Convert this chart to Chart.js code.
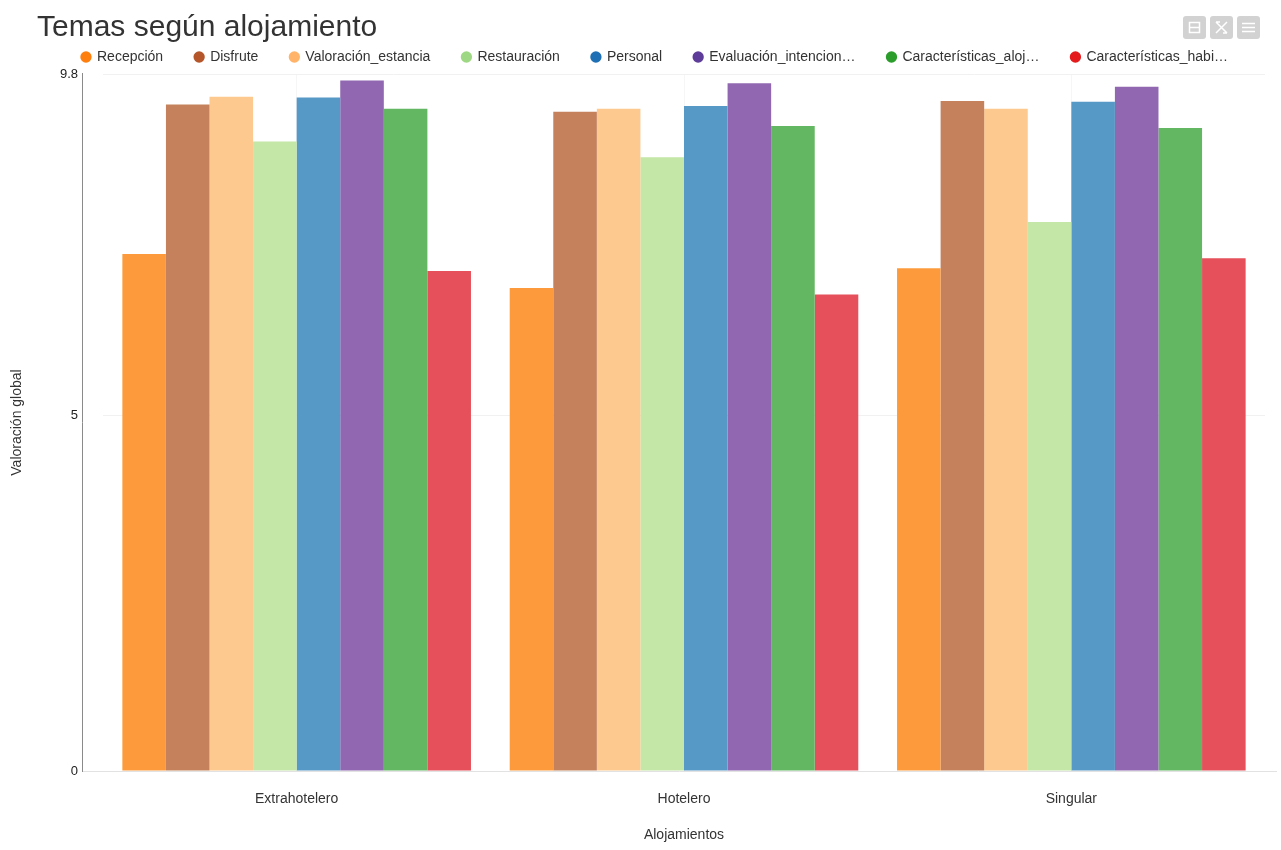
<!DOCTYPE html>
<html lang="es">
<head>
<meta charset="utf-8">
<title>Temas según alojamiento</title>
<script src="https://cdn.jsdelivr.net/npm/chart.js@4.4.1/dist/chart.umd.min.js"></script>
<style>
  html, body { margin: 0; padding: 0; background: #ffffff; }
  #wrap { width: 1281px; height: 850px; }
</style>
</head>
<body>
<div id="wrap"><canvas id="chart" width="1281" height="850"></canvas></div>
<script>
// Categories (x axis) and series names
const categories = ['Extrahotelero', 'Hotelero', 'Singular'];
const seriesNames = [
  'Recepción', 'Disfrute', 'Valoración_estancia', 'Restauración',
  'Personal', 'Evaluación_intencion…', 'Características_aloj…', 'Características_habi…'
];

// Average score per theme, one value per accommodation type
const recepcion          = [7.27, 6.79, 7.07];
const disfrute           = [9.37, 9.27, 9.42];
const valoracionEstancia = [9.48, 9.31, 9.31];
const restauracion       = [8.85, 8.63, 7.72];
const personal           = [9.47, 9.35, 9.41];
const evaluacion         = [9.71, 9.67, 9.62];
const caracAlojamiento   = [9.31, 9.07, 9.04];
const caracHabitacion    = [7.03, 6.70, 7.21];

// Y axis tick labels
const yTickValues = [0, 5, 9.8];

const seriesValues = [
  recepcion, disfrute, valoracionEstancia, restauracion,
  personal, evaluacion, caracAlojamiento, caracHabitacion
];

const barColors = [
  '#fd9b3c', '#c4815b', '#fdc98e', '#c4e6a6',
  '#5698c6', '#9067b0', '#63b762', '#e6505a'
];
const legendColors = [
  '#ff7f0e', '#b4552a', '#ffb46a', '#9fd884',
  '#1f6fb4', '#5e3c99', '#2a9d2a', '#e41a1c'
];

const FONT = '"Liberation Sans", Arial, Helvetica, sans-serif';

// Axis line, baseline and toolbar buttons
const decorations = {
  id: 'decorations',
  afterLayout(chart) {
    if (chart.titleBlock) {
      chart.titleBlock.left = 37;
    }
    if (chart.legend) {
      chart.legend.left += 20;
      chart.legend.right += 20;
    }
  },
  beforeDatasetsDraw(chart) {
    const { ctx, chartArea } = chart;
    const axisX = chartArea.left - 20.5;
    ctx.save();
    ctx.lineWidth = 1;
    ctx.strokeStyle = '#e2e2e2';
    ctx.beginPath();
    ctx.moveTo(axisX, Math.round(chartArea.bottom) + 0.5);
    ctx.lineTo(chartArea.right + 12, Math.round(chartArea.bottom) + 0.5);
    ctx.stroke();
    ctx.strokeStyle = '#8a8a8a';
    ctx.beginPath();
    ctx.moveTo(axisX, chartArea.top - 1);
    ctx.lineTo(axisX, chartArea.bottom + 1);
    ctx.stroke();
    ctx.restore();
  },
  afterDraw(chart) {
    const ctx = chart.ctx;
    const xs = [1183, 1210, 1237];
    const y = 16, s = 23;
    ctx.save();
    xs.forEach((x, i) => {
      ctx.fillStyle = '#d2d2d2';
      ctx.beginPath();
      ctx.roundRect(x, y, s, s, 3);
      ctx.fill();
      ctx.strokeStyle = '#ffffff';
      ctx.lineWidth = 1.5;
      ctx.beginPath();
      if (i === 0) {
        ctx.rect(x + 6.5, y + 6.5, 10, 10);
        ctx.moveTo(x + 6.5, y + 11.5);
        ctx.lineTo(x + 16.5, y + 11.5);
      } else if (i === 1) {
        ctx.moveTo(x + 6, y + 6); ctx.lineTo(x + 17, y + 17);
        ctx.moveTo(x + 17, y + 6); ctx.lineTo(x + 6, y + 17);
        ctx.moveTo(x + 6, y + 6); ctx.lineTo(x + 10, y + 6);
        ctx.moveTo(x + 17, y + 17); ctx.lineTo(x + 13, y + 17);
      } else {
        ctx.moveTo(x + 5, y + 7.5); ctx.lineTo(x + 18, y + 7.5);
        ctx.moveTo(x + 5, y + 11.5); ctx.lineTo(x + 18, y + 11.5);
        ctx.moveTo(x + 5, y + 15.5); ctx.lineTo(x + 18, y + 15.5);
      }
      ctx.stroke();
    });
    ctx.restore();
  }
};

const datasets = seriesNames.map((name, i) => ({
  label: name,
  data: seriesValues[i],
  backgroundColor: barColors[i],
  borderWidth: 0,
  categoryPercentage: 0.9,
  barPercentage: 1.0
}));

new Chart(document.getElementById('chart'), {
  type: 'bar',
  data: { labels: categories, datasets },
  plugins: [decorations],
  options: {
    responsive: false,
    animation: false,
    events: [],
    layout: { padding: { left: 5, right: 16, top: 0, bottom: 0 } },
    plugins: {
      tooltip: { enabled: false },
      title: {
        display: true,
        text: 'Temas según alojamiento',
        align: 'start',
        color: '#333333',
        font: { family: FONT, size: 30, weight: 'normal', lineHeight: 1.2 },
        padding: { top: 10, bottom: -28 }
      },
      legend: {
        display: true,
        position: 'top',
        align: 'center',
        labels: {
          usePointStyle: true,
          pointStyle: 'circle',
          boxWidth: 8,
          boxHeight: 8,
          padding: 32,
          color: '#333333',
          font: { family: FONT, size: 14 },
          generateLabels(chart) {
            const items = Chart.defaults.plugins.legend.labels.generateLabels(chart);
            items.forEach((it, i) => {
              it.fillStyle = legendColors[i];
              it.strokeStyle = legendColors[i];
              it.lineWidth = 0;
            });
            return items;
          }
        }
      }
    },
    scales: {
      x: {
        grid: {
          display: true,
          offset: false,
          drawTicks: false,
          color: 'rgba(0,0,0,0.035)'
        },
        border: { display: false },
        ticks: {
          padding: 20,
          color: '#333333',
          font: { family: FONT, size: 14 }
        },
        title: {
          display: true,
          text: 'Alojamientos',
          color: '#333333',
          font: { family: FONT, size: 14 },
          padding: { top: 0, bottom: 6.6 }
        },
        afterFit(scale) { scale.height = 79; }
      },
      y: {
        min: 0,
        max: 9.8,
        afterBuildTicks(scale) {
          scale.ticks = yTickValues.map(v => ({ value: v }));
        },
        grid: {
          drawTicks: false,
          color: ctx => (ctx.tick && ctx.tick.value === 0) ? 'rgba(0,0,0,0)' : '#f1f1f1'
        },
        border: { display: false },
        ticks: {
          padding: 25,
          color: '#222222',
          font: { family: FONT, size: 13 },
          callback: v => String(v)
        },
        title: {
          display: true,
          text: 'Valoración global',
          color: '#333333',
          font: { family: FONT, size: 14 },
          padding: { top: 4, bottom: 4 }
        },
        afterFit(scale) { scale.width = 98; }
      }
    }
  }
});
</script>
</body>
</html>
